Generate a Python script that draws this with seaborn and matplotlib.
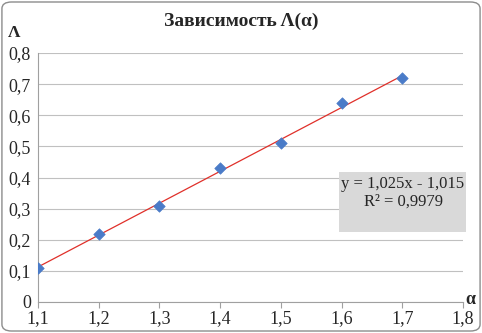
import numpy as np
import pandas as pd
import seaborn as sns
import matplotlib
matplotlib.use("Agg")
import matplotlib.pyplot as plt
from matplotlib.patches import FancyBboxPatch
from matplotlib.ticker import FuncFormatter

alpha = [1.1, 1.2, 1.3, 1.4, 1.5, 1.6, 1.7]
lam = [0.11, 0.22, 0.31, 0.43, 0.51, 0.64, 0.72]
x_ticks = [1.1, 1.2, 1.3, 1.4, 1.5, 1.6, 1.7, 1.8]
y_ticks = [0, 0.1, 0.2, 0.3, 0.4, 0.5, 0.6, 0.7, 0.8]

df = pd.DataFrame({"alpha": alpha, "lam": lam})

sns.set_theme(style="white")
plt.rcParams['font.family'] = ['Liberation Serif', 'DejaVu Serif']

fig = plt.figure(figsize=(4.82, 3.33), dpi=100)
ax = fig.add_axes([0.0788, 0.0931, 0.882, 0.7477])

# trend line
k, b = np.polyfit(df.alpha, df.lam, 1)
xs = np.array([min(alpha), max(alpha)])
ax.plot(xs, k * xs + b, color="#e0302a", lw=0.9, zorder=2)

sns.scatterplot(data=df, x="alpha", y="lam", marker="D", s=34,
                color="#4a7bc8", edgecolor="#4a7bc8", linewidth=0.5,
                ax=ax, zorder=3)

ax.set_xlim(1.1, 1.8)
ax.set_ylim(0, 0.8)
ax.set_xticks(x_ticks)
ax.set_yticks(y_ticks)
fmt = FuncFormatter(lambda v, p: ("%g" % round(v, 2)).replace(".", ","))
ax.xaxis.set_major_formatter(fmt)
ax.yaxis.set_major_formatter(fmt)
ax.tick_params(axis="x", direction="out", length=4, width=0.8,
               color="#a0a0a0", labelsize=13, pad=2, bottom=True)
ax.tick_params(axis="y", length=0, labelsize=13, pad=5, left=False)
ax.yaxis.grid(True, color="#c0c0c0", lw=0.8)
ax.xaxis.grid(False)
for side in ["top", "right"]:
    ax.spines[side].set_visible(False)
for side in ["left", "bottom"]:
    ax.spines[side].set_color("#a0a0a0")
    ax.spines[side].set_linewidth(0.8)
ax.set_xlabel("")
ax.set_ylabel("")

fig.text(0.5, 0.935, "Зависимость Λ(α)", ha="center", va="center",
         fontsize=14, fontweight="bold")
fig.text(0.029, 0.9, "Λ", ha="center", va="center", fontsize=12.5,
         fontweight="bold")
fig.text(0.975, 0.1, "α", ha="center", va="center", fontsize=13,
         fontweight="bold")

# equation box
box = FancyBboxPatch((339 / 482, 1 - 232 / 333), 127 / 482, 60 / 333,
                     boxstyle="square,pad=0", transform=fig.transFigure,
                     facecolor="#d9d9d9", edgecolor="none", zorder=5)
fig.patches.append(box)
fig.text(403 / 482, 1 - 184 / 333, "y = %sx - %s" % (("%.3f" % k).replace(".", ","), ("%.3f" % -b).replace(".", ",")),
         ha="center", va="center", fontsize=12, zorder=6)
r2 = np.corrcoef(df.alpha, df.lam)[0, 1] ** 2
fig.text(403 / 482, 1 - 202 / 333, "R² = " + ("%.4f" % r2).replace(".", ","),
         ha="center", va="center", fontsize=12, zorder=6)

border = FancyBboxPatch((0.004, 0.006), 0.992, 0.988,
                        boxstyle="round,pad=0,rounding_size=0.02",
                        transform=fig.transFigure, facecolor="none",
                        edgecolor="#8c8c8c", lw=1.0)
fig.patches.append(border)

fig.savefig("out.png", dpi=100)
